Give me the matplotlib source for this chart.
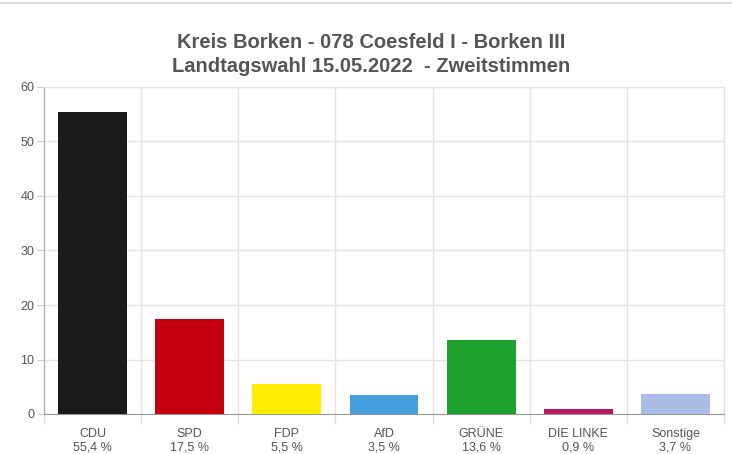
import matplotlib
matplotlib.use("Agg")
import matplotlib.pyplot as plt
import numpy as np

# data
parties = ["CDU", "SPD", "FDP", "AfD", "GRÜNE", "DIE LINKE", "Sonstige"]
shares = [55.4, 17.5, 5.5, 3.5, 13.6, 0.9, 3.7]
share_labels = ["55,4 %", "17,5 %", "5,5 %", "3,5 %", "13,6 %", "0,9 %", "3,7 %"]
colors = ["#1a1a1a", "#c4000f", "#ffed00", "#45a0dd", "#1fa12f", "#b6185f", "#a9bde6"]
yticks = [0, 10, 20, 30, 40, 50, 60]

plt.rcParams["font.family"] = ["Liberation Sans", "DejaVu Sans"]
text_color = "#555555"

fig = plt.figure(figsize=(7.32, 4.54), dpi=100)
ax = fig.add_axes([44 / 732, 1 - 414 / 454, 680 / 732, 327 / 454])

x = np.arange(len(parties))
ax.bar(x, shares, width=0.71, color=colors, zorder=3)

ax.set_xlim(-0.5, len(parties) - 0.5)
ax.set_ylim(0, 60)
ax.set_yticks(yticks)
ax.set_xticks(x)
ax.set_xticklabels([f"{p}\n{s}" for p, s in zip(parties, share_labels)],
                   color=text_color, fontsize=9, linespacing=1.15)
ax.set_xticks(np.arange(len(parties) + 1) - 0.5, minor=True)
ax.tick_params(axis="x", which="major", length=0, pad=10)
ax.tick_params(axis="x", which="minor", length=7, color="#dddddd", width=1)
ax.tick_params(axis="y", length=5, color="#cccccc", labelcolor=text_color,
               labelsize=9, pad=2)

ax.grid(axis="y", color="#e3e3e3", linewidth=1, zorder=0)
ax.grid(axis="x", which="minor", color="#e3e3e3", linewidth=1, zorder=0)

for side in ["top", "right"]:
    ax.spines[side].set_color("#e3e3e3")
ax.spines["left"].set_color("#aaaaaa")
ax.spines["bottom"].set_color("#999999")

fig.text(0.507, 1 - 43 / 454, "Kreis Borken - 078 Coesfeld I - Borken III",
         ha="center", va="center", fontsize=14.5, fontweight="bold", color=text_color)
fig.text(0.507, 1 - 67 / 454, "Landtagswahl 15.05.2022  - Zweitstimmen",
         ha="center", va="center", fontsize=14.5, fontweight="bold", color=text_color)

# thin frame line at the top of the image
fig.add_artist(plt.Line2D([0, 1], [1 - 2.5 / 454] * 2, color="#dddddd", linewidth=1.5))

fig.savefig("out.png", dpi=100)
